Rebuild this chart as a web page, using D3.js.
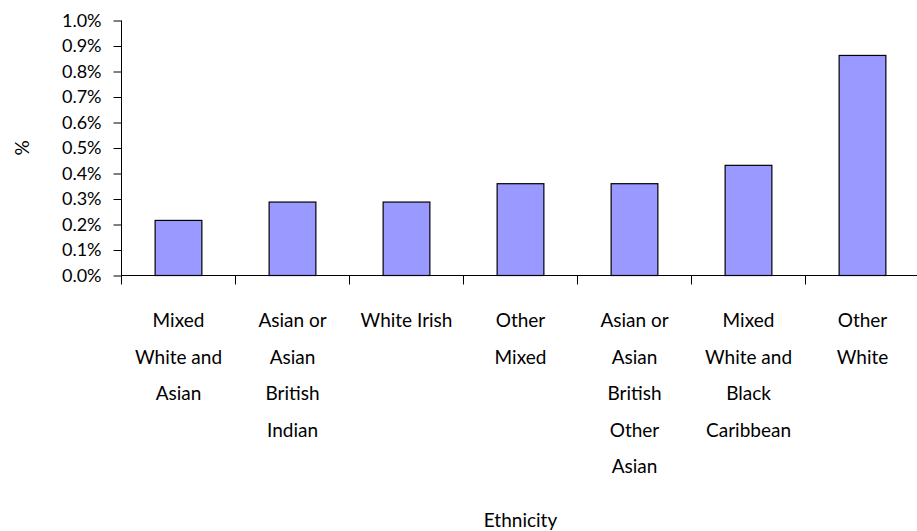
<!DOCTYPE html>
<html><head><meta charset="utf-8">
<script src="https://cdn.jsdelivr.net/npm/d3@7"></script>
<style>
html,body{margin:0;padding:0;background:#fff;}
svg{display:block;}
text{font-family:"Lato","Open Sans",sans-serif;fill:#000;}
</style></head>
<body>
<svg id="chart" width="917" height="531"></svg>
<script>
const categories = ["Mixed White and Asian","Asian or Asian British Indian","White Irish","Other Mixed","Asian or Asian British Other Asian","Mixed White and Black Caribbean","Other White"];
const categoryLines = [["Mixed","White and","Asian"],["Asian or","Asian","British","Indian"],["White Irish"],["Other","Mixed"],["Asian or","Asian","British","Other","Asian"],["Mixed","White and","Black","Caribbean"],["Other","White"]];
const values = [0.216, 0.288, 0.288, 0.360, 0.360, 0.432, 0.863];
const yTicks = [0,0.1,0.2,0.3,0.4,0.5,0.6,0.7,0.8,0.9,1.0];
const xTitle = "Ethnicity";
const yTitle = "%";

(function(){
const svg = d3.select("#chart");
const pLeft = 121.5, pRight = 919.5, pTop = 20.5, pBottom = 275.5;
const x = d3.scaleBand().domain(categories).range([pLeft, pRight]).paddingInner(0.59).paddingOuter(0.295);
const y = d3.scaleLinear().domain([0, 1.0]).range([pBottom, pTop]);
const fs = 18, fsc = 19;

// bars
svg.append("g").selectAll("rect").data(values).join("rect")
  .attr("x", (d,i) => x(categories[i]))
  .attr("y", d => y(d))
  .attr("width", x.bandwidth())
  .attr("height", d => y(0) - y(d))
  .attr("fill", "#9999FF")
  .attr("stroke", "#000")
  .attr("stroke-width", 1.2);

// y axis
const yAxis = d3.axisLeft(y).tickValues(yTicks).tickFormat(d => d.toFixed(1) + "%").tickSize(8).tickPadding(12);
const gy = svg.append("g").attr("transform", `translate(${pLeft},0)`).call(yAxis);
gy.select(".domain").remove();
gy.selectAll(".tick line").attr("stroke", "#000");
gy.selectAll(".tick text").attr("font-size", fs).attr("font-family", "Lato").attr("fill", "#000");
svg.append("line").attr("x1", pLeft).attr("x2", pLeft).attr("y1", pTop).attr("y2", pBottom + 9).attr("stroke", "#000");

// x axis line
svg.append("line").attr("x1", pLeft).attr("x2", 917).attr("y1", pBottom).attr("y2", pBottom).attr("stroke", "#000");
// category boundary ticks
const step = x.step();
const bounds = d3.range(categories.length + 1).map(i => x(categories[0]) - x.paddingInner()*step/2 + i*step);
svg.append("g").selectAll("line").data(bounds.slice(1)).join("line")
  .attr("x1", d => d).attr("x2", d => d)
  .attr("y1", pBottom).attr("y2", pBottom + 9)
  .attr("stroke", "#000");

// category labels
const lh = 36.5;
const lg = svg.append("g");
categoryLines.forEach((lines, i) => {
  const cx = x(categories[i]) + x.bandwidth()/2;
  lines.forEach((ln, j) => {
    lg.append("text").attr("x", cx).attr("y", 327 + j*lh)
      .attr("text-anchor", "middle").attr("font-size", fsc).text(ln);
  });
});

// titles
svg.append("text").attr("x", (pLeft+pRight)/2).attr("y", 527).attr("text-anchor","middle").attr("font-size", fsc).text(xTitle);
svg.append("text").attr("transform", `translate(29,${(pTop+pBottom)/2}) rotate(-90)`).attr("text-anchor","middle").attr("font-size", fsc).text(yTitle);
})();
</script>
</body></html>
